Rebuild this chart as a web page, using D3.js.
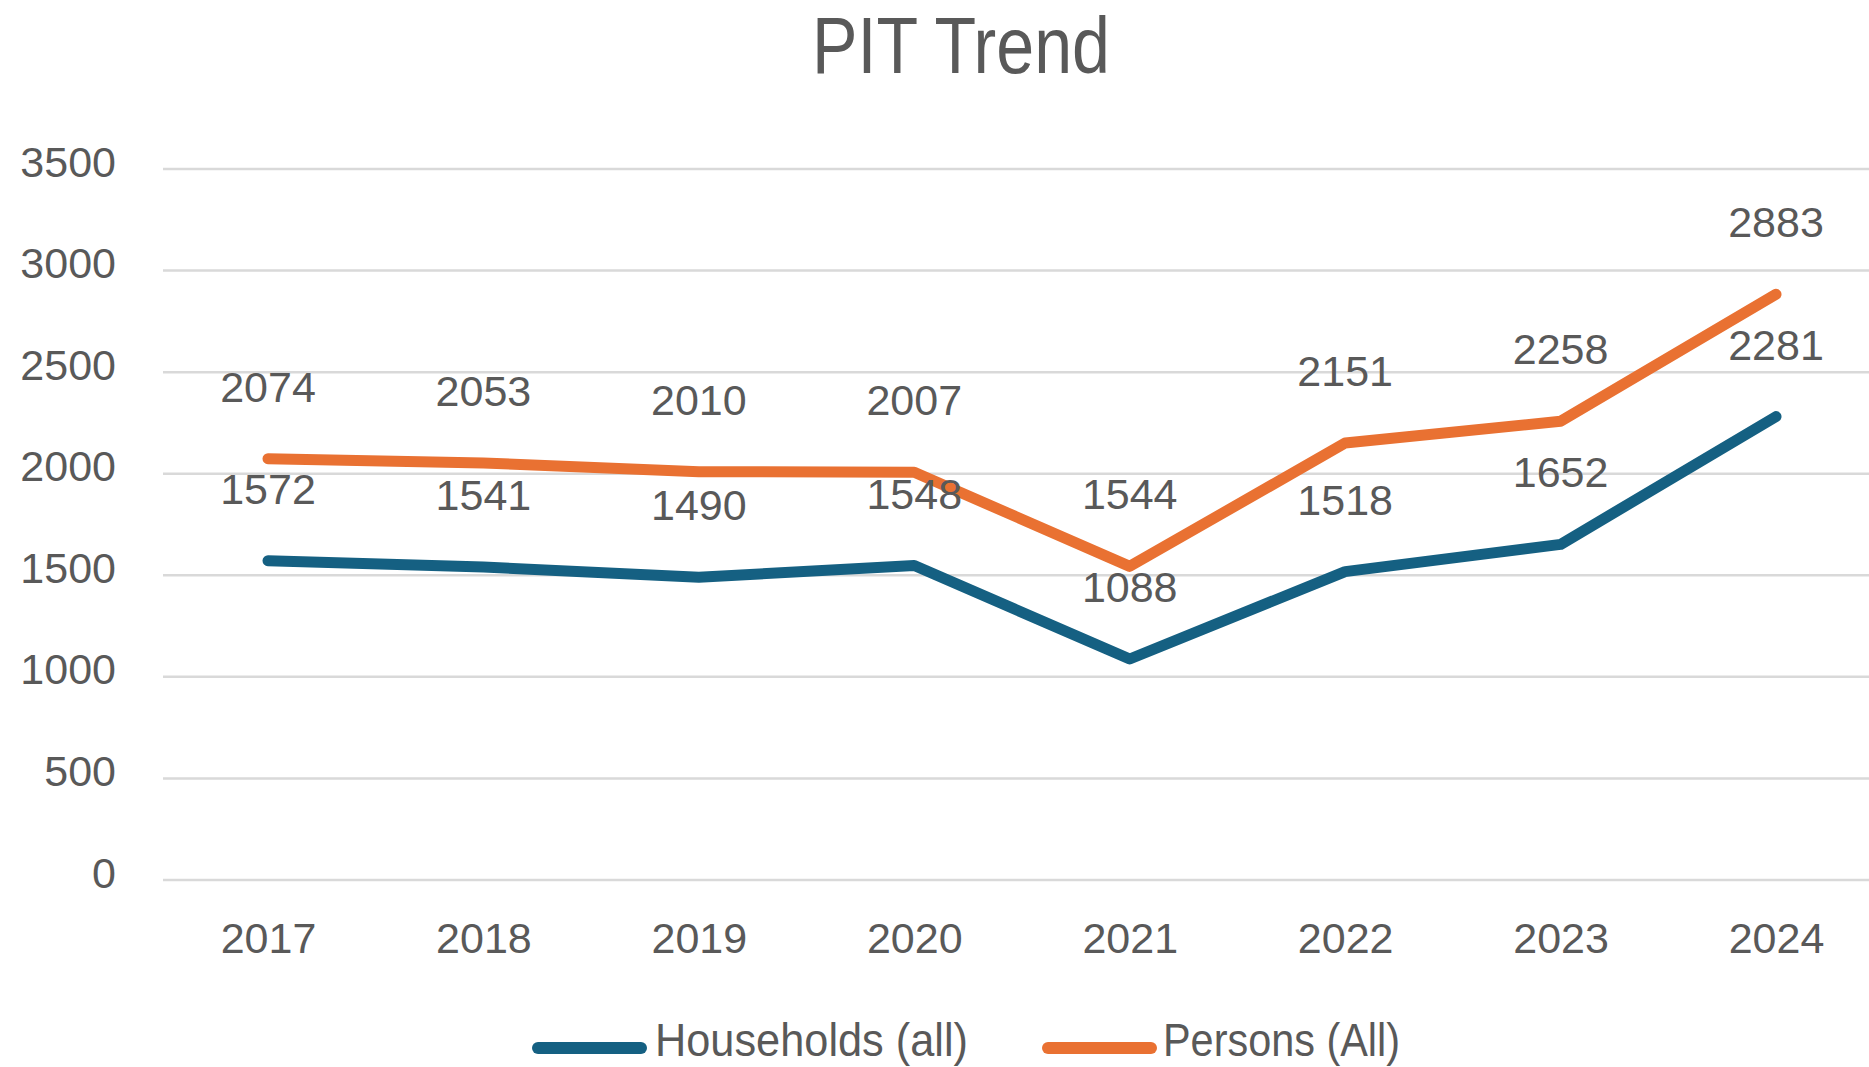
<!DOCTYPE html>
<html>
<head>
<meta charset="utf-8">
<script src="https://cdn.jsdelivr.net/npm/d3@7"></script>
<style>
  html, body { margin: 0; padding: 0; background: #fff; overflow: hidden; }
  svg text { font-family: "Liberation Sans", Arial, sans-serif; fill: #595959; }
</style>
</head>
<body>
<div id="chart"></div>
<script>
// data
var years = ["2017", "2018", "2019", "2020", "2021", "2022", "2023", "2024"];
var households = [1572, 1541, 1490, 1548, 1088, 1518, 1652, 2281];
var persons = [2074, 2053, 2010, 2007, 1544, 2151, 2258, 2883];
var yTicks = [0, 500, 1000, 1500, 2000, 2500, 3000, 3500];
var seriesNames = ["Households (all)", "Persons (All)"];
var seriesColors = ["#156082", "#E97132"];

var width = 1869, height = 1067;

var svg = d3.select("#chart").append("svg")
    .attr("width", width)
    .attr("height", height);

var x = d3.scalePoint().domain(years).range([268, 1776]);
var y = d3.scaleLinear().domain([0, 3500]).range([880, 169]);

// title
svg.append("text")
    .attr("x", 961).attr("y", 73)
    .attr("text-anchor", "middle")
    .attr("font-size", 80)
    .attr("textLength", 298)
    .attr("lengthAdjust", "spacingAndGlyphs")
    .text("PIT Trend");

// gridlines
svg.append("g").selectAll("line")
    .data(yTicks)
    .enter().append("line")
    .attr("x1", 163).attr("x2", 1890)
    .attr("y1", function(d){ return y(d); })
    .attr("y2", function(d){ return y(d); })
    .attr("stroke", "#d9d9d9")
    .attr("stroke-width", 2.5);

// y axis labels
var yAxis = svg.append("g")
    .attr("transform", "translate(163,0)")
    .call(d3.axisLeft(y).tickValues(yTicks).tickSize(0).tickPadding(47).tickFormat(d3.format("d")));
yAxis.select(".domain").remove();
yAxis.selectAll("text")
    .attr("font-size", 43)
    .attr("dy", "7px")
    .style("font-family", "'Liberation Sans', Arial, sans-serif")
    .attr("fill", "#595959");

// x axis labels
var xAxis = svg.append("g")
    .attr("transform", "translate(0,953)")
    .call(d3.axisBottom(x).tickSize(0).tickPadding(0));
xAxis.select(".domain").remove();
xAxis.selectAll("text")
    .attr("font-size", 43)
    .attr("dy", 0)
    .attr("y", 0)
    .style("font-family", "'Liberation Sans', Arial, sans-serif")
    .attr("fill", "#595959");

var line = d3.line()
    .x(function(d, i){ return x(years[i]); })
    .y(function(d){ return y(d); });

var allSeries = [households, persons];

svg.append("g").selectAll("path")
    .data(allSeries)
    .enter().append("path")
    .attr("d", line)
    .attr("fill", "none")
    .attr("stroke", function(d, i){ return seriesColors[i]; })
    .attr("stroke-width", 11)
    .attr("stroke-linejoin", "round")
    .attr("stroke-linecap", "round");

// data labels above each point
allSeries.forEach(function(vals){
    svg.append("g").selectAll("text")
        .data(vals)
        .enter().append("text")
        .attr("x", function(d, i){ return x(years[i]); })
        .attr("y", function(d){ return y(d) - 57; })
        .attr("text-anchor", "middle")
        .attr("font-size", 43)
        .text(function(d){ return d; });
});

// legend
var legendItems = [
    {sx: 532, tx: 655, tw: 313},
    {sx: 1042, tx: 1163, tw: 237}
];
var legend = svg.append("g");
legendItems.forEach(function(it, i){
    legend.append("line")
        .attr("x1", it.sx + 6).attr("x2", it.sx + 109)
        .attr("y1", 1048).attr("y2", 1048)
        .attr("stroke", seriesColors[i])
        .attr("stroke-width", 12)
        .attr("stroke-linecap", "round");
    legend.append("text")
        .attr("x", it.tx).attr("y", 1056)
        .attr("font-size", 46)
        .attr("textLength", it.tw)
        .attr("lengthAdjust", "spacingAndGlyphs")
        .text(seriesNames[i]);
});
</script>
</body>
</html>
